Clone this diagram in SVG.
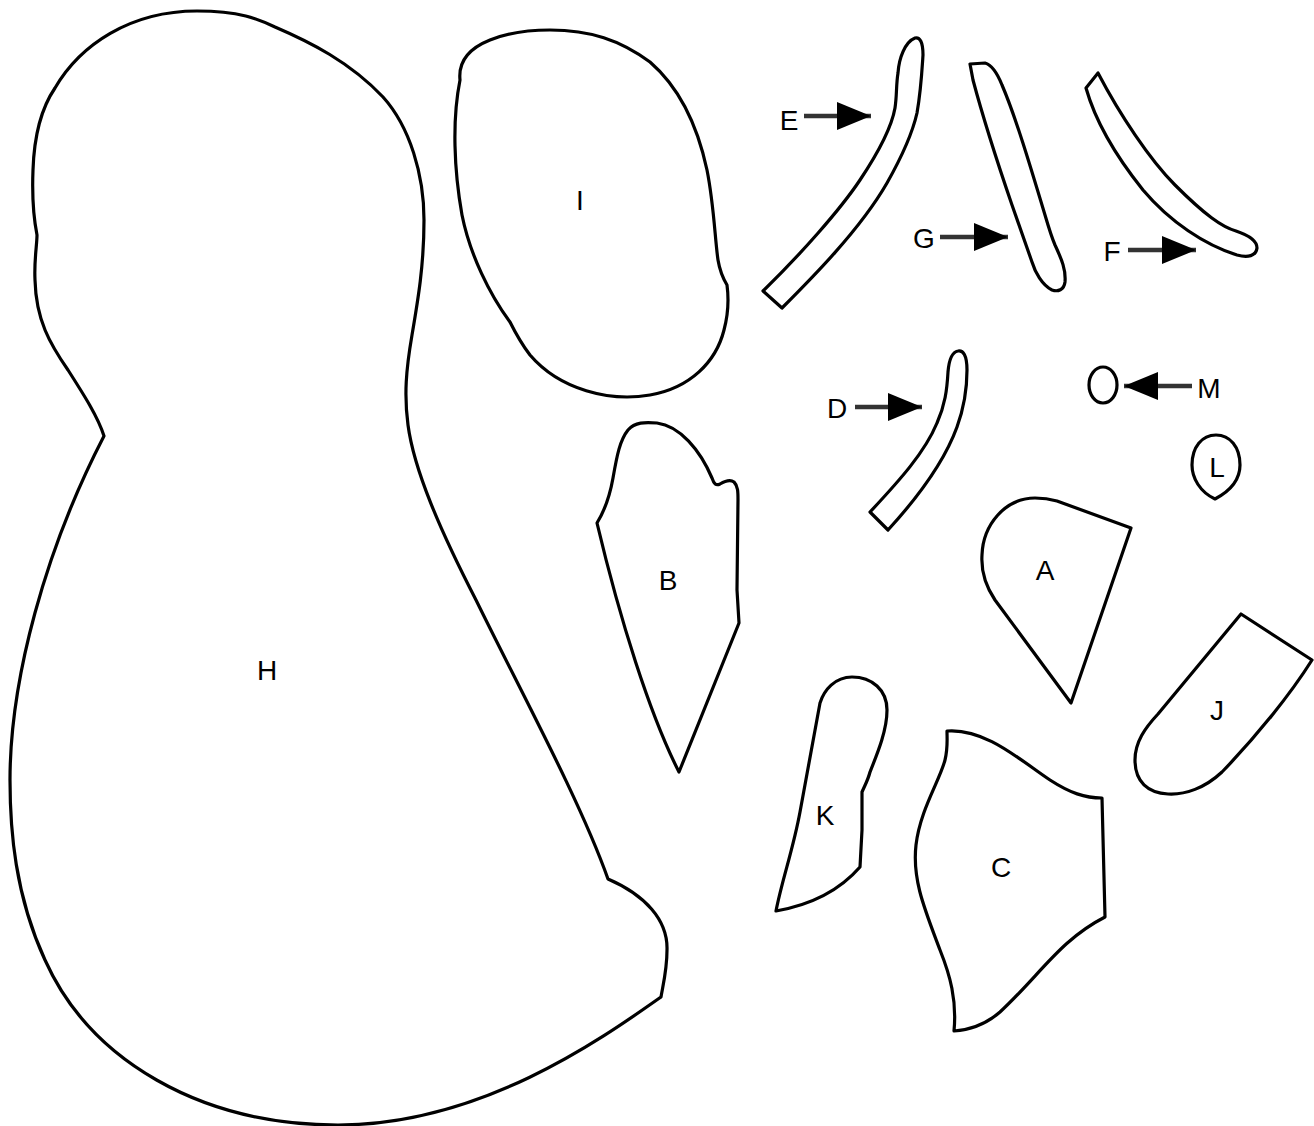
<svg xmlns="http://www.w3.org/2000/svg" width="1314" height="1126" viewBox="0 0 1314 1126">
<style>
.piece{fill:#fff;stroke:#000;stroke-width:3.2;stroke-linejoin:round}
.lbl{font-family:"Liberation Sans",Arial,sans-serif;font-size:28px;fill:#000;text-anchor:middle}
.ptr{stroke:#333;stroke-width:4.5;fill:none}
</style>
<defs>
<marker id="head" markerUnits="userSpaceOnUse" markerWidth="34" markerHeight="28" viewBox="0 0 34 28" refX="34" refY="14" orient="auto">
<path d="M0,0 L34,14 L0,28 Z" fill="#000"/>
</marker>
</defs>
<rect width="1314" height="1126" fill="#fff"/>
<g id="H">
<path class="piece" d="M197,11 C240,11 258,19 275,27 C310,42 350,62 383,97 C410,127 424,175 424,220 C424,265 418,300 412,335 C406,370 404,395 408,425 C414,470 440,530 476,600 C520,690 580,800 608,879 C645,895 668,920 667,950 C667,970 663,985 661,997 C600,1040 480,1125 338,1125 C200,1125 90,1060 45,960 C15,895 10,830 10,780 C10,680 45,550 104,436 C98,417 84,395 68,370 C50,344 36,320 35,280 C34,260 37,245 37,235 C33,215 32,195 33,170 C34,140 40,110 55,88 C80,45 130,11 197,11 Z"/>
<text class="lbl" x="267" y="680">H</text>
</g>
<g id="I">
<path class="piece" d="M460,80 C458,60 470,48 490,40 C510,32 530,30 550,30 C590,30 620,40 650,62 C680,88 698,128 707,170 C714,205 715,240 718,260 C720,272 724,280 727,285 C729,300 728,315 724,330 C716,362 690,388 650,395 C610,402 560,390 530,355 C520,342 515,332 510,322 C490,295 470,255 462,215 C454,170 452,120 460,80 Z"/>
<text class="lbl" x="580" y="210">I</text>
</g>
<g id="B">
<path class="piece" d="M597,523 C605,510 610,495 613,478 C617,455 620,440 628,430 C635,422 645,422 657,423 C680,426 700,450 712,478 C714,484 716,486 720,484 C725,481 730,479 734,482 C738,486 738,492 738,500 L737,590 L739,623 L679,772 C650,715 620,620 597,523 Z"/>
<text class="lbl" x="668" y="590">B</text>
</g>
<g id="E">
<path class="piece" d="M763,291 L782,308 C810,280 860,230 887,183 C900,160 912,135 917,113 C921,90 922,70 923,55 C923,42 920,37 915,38 C905,42 899,58 898,73 C896,85 897,95 895,108 C892,125 880,150 860,180 C840,210 800,255 763,291 Z"/>
<text class="lbl" x="789" y="130">E</text>
</g>
<g id="G">
<path class="piece" d="M970,64 L985,63 C992,65 998,75 1002,85 C1015,115 1030,165 1045,215 C1050,232 1052,238 1055,245 C1062,260 1066,270 1065,282 C1064,290 1058,292 1052,290 C1042,285 1035,272 1032,262 L1012,205 C1000,170 985,125 973,80 Z"/>
<text class="lbl" x="924" y="248">G</text>
</g>
<g id="F">
<path class="piece" d="M1098,73 L1086,88 C1095,120 1115,155 1143,190 C1170,222 1205,245 1237,255 C1248,258 1256,256 1257,248 C1257,240 1248,235 1236,231 C1222,227 1205,215 1175,185 C1150,160 1120,115 1098,73 Z"/>
<text class="lbl" x="1112" y="261">F</text>
</g>
<g id="D">
<path class="piece" d="M870,512 L888,530 C920,495 945,460 957,427 C965,405 967,385 967,370 C967,355 963,350 958,351 C952,352 949,360 948,372 C947,390 945,405 937,423 C925,452 900,480 870,512 Z"/>
<text class="lbl" x="837" y="418">D</text>
</g>
<g id="M">
<ellipse class="piece" cx="1103" cy="385" rx="14" ry="18"/>
<text class="lbl" x="1209" y="398">M</text>
</g>
<g id="L">
<path class="piece" d="M1215,499 C1200,492 1192,478 1192,465 C1192,447 1202,435 1216,435 C1230,435 1240,447 1240,465 C1240,478 1232,490 1215,499 Z"/>
<text class="lbl" x="1217" y="477">L</text>
</g>
<g id="A">
<path class="piece" d="M1131,528 L1071,703 L995,600 C985,585 981,570 982,555 C983,525 1005,498 1035,498 C1045,498 1050,499 1057,501 Z"/>
<text class="lbl" x="1045" y="580">A</text>
</g>
<g id="J">
<path class="piece" d="M1241,614 L1312,660 C1290,695 1255,738 1222,772 C1205,788 1185,795 1168,794 C1148,793 1135,782 1135,760 C1135,742 1145,728 1158,714 Z"/>
<text class="lbl" x="1217" y="720">J</text>
</g>
<g id="K">
<path class="piece" d="M776,911 C810,905 840,890 860,867 L862,830 L862,792 C865,785 868,780 870,772 C878,752 887,730 887,710 C887,690 872,677 852,677 C835,677 824,690 820,703 L800,812 C793,850 782,880 776,911 Z"/>
<text class="lbl" x="825" y="825">K</text>
</g>
<g id="C">
<path class="piece" d="M947,731 C985,728 1020,760 1050,780 C1070,793 1085,798 1102,798 L1105,917 C1060,940 1040,975 1000,1012 C985,1025 970,1030 954,1031 C957,1000 950,975 940,950 C925,910 912,880 916,845 C920,810 940,780 945,760 C948,748 947,740 947,731 Z"/>
<text class="lbl" x="1001" y="877">C</text>
</g>
<g id="connectors">
<line class="ptr" x1="804" y1="116" x2="871" y2="116" marker-end="url(#head)"/>
<line class="ptr" x1="940" y1="237" x2="1008" y2="237" marker-end="url(#head)"/>
<line class="ptr" x1="1128" y1="250" x2="1196" y2="250" marker-end="url(#head)"/>
<line class="ptr" x1="855" y1="407" x2="922" y2="407" marker-end="url(#head)"/>
<line class="ptr" x1="1192" y1="386" x2="1124" y2="386" marker-end="url(#head)"/>
</g>
</svg>
